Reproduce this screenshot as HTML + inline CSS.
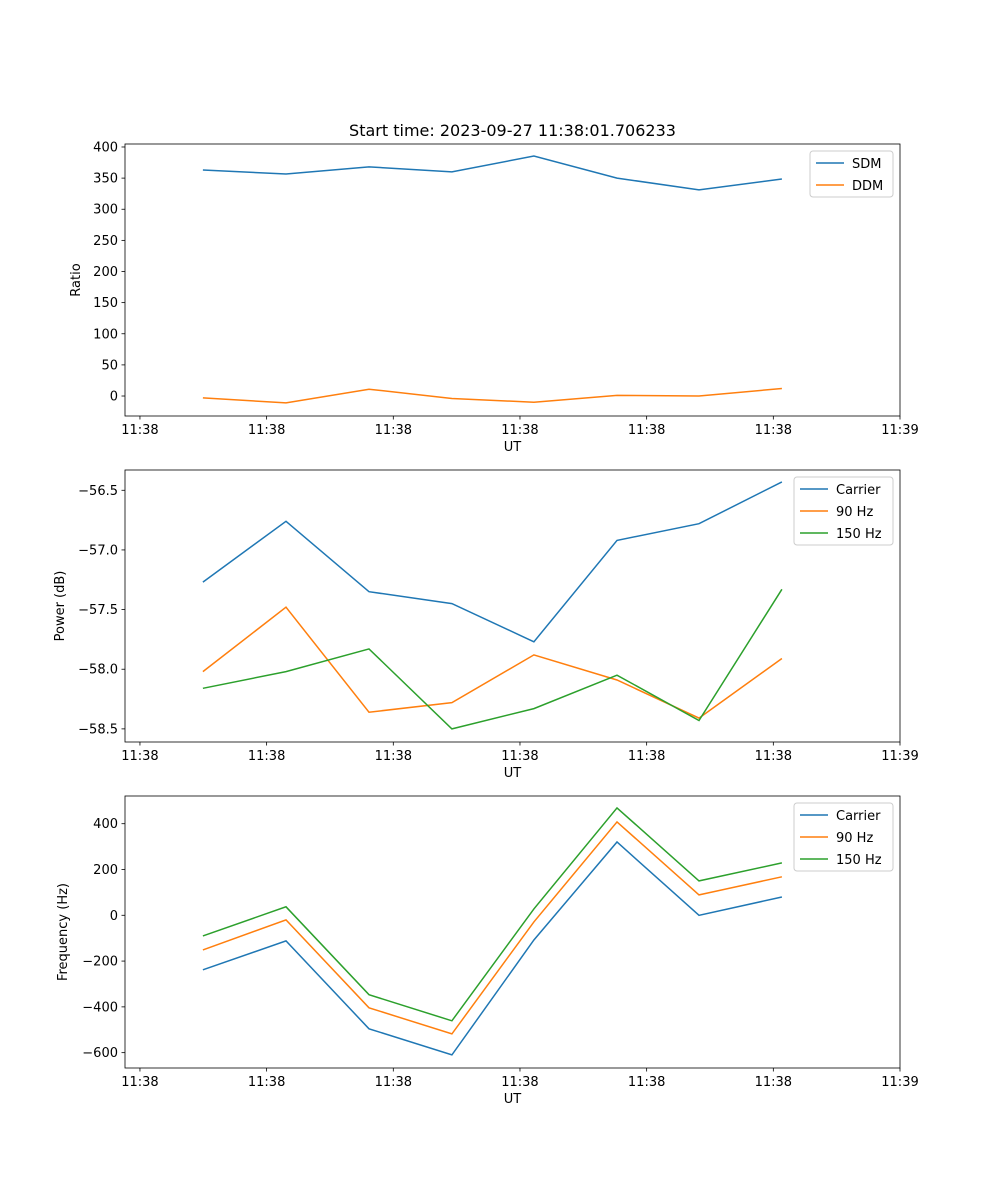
<!DOCTYPE html>
<html><head><meta charset="utf-8"><style>body{margin:0;background:#fff}svg{display:block}text{font-family:"DejaVu Sans","Liberation Sans",sans-serif;fill:#000}</style></head>
<body>
<svg id="chart" width="1000" height="1200" xmlns="http://www.w3.org/2000/svg"></svg>
<script>
const times = [4.97, 11.53, 18.08, 24.63, 31.1, 37.66, 44.13, 50.68];
const xTicks = [0, 10, 20, 30, 40, 50, 60];
const xTickLabels = ["11:38","11:38","11:38","11:38","11:38","11:38","11:39"];
const sdm = [363, 356.6, 368, 360, 385.5, 350, 331, 348.6];
const ddm = [-3, -11, 11, -4, -10, 1, 0, 12];
const ratioTicks = [0, 50, 100, 150, 200, 250, 300, 350, 400];
const pwrCarrier = [-57.27, -56.76, -57.35, -57.45, -57.77, -56.92, -56.78, -56.43];
const pwr90 = [-58.02, -57.48, -58.36, -58.28, -57.88, -58.09, -58.41, -57.91];
const pwr150 = [-58.16, -58.02, -57.83, -58.5, -58.33, -58.05, -58.43, -57.33];
const pwrTicks = [-56.5, -57.0, -57.5, -58.0, -58.5];
const frqCarrier = [-238, -112, -496, -610, -108, 320, 0, 80];
const frq90 = [-151, -20, -404, -518, -29, 408, 89, 168];
const frq150 = [-90, 37, -347, -461, 28, 469, 150, 229];
const frqTicks = [-600, -400, -200, 0, 200, 400];

const NS = "http://www.w3.org/2000/svg";
const svg = document.getElementById('chart');
function mk(tag, attrs, parent, txt){const e=document.createElementNS(NS,tag);for(const k in attrs)e.setAttribute(k,attrs[k]);if(txt!==undefined)e.textContent=txt;(parent||svg).appendChild(e);return e;}
const L=125,R=900,xmin=-1.18,xmax=60;
const xs=v=>L+(v-xmin)/(xmax-xmin)*(R-L);
const C=["#1f77b4","#ff7f0e","#2ca02c"];

function panel(name, top, bot, ymin, ymax, yTicks, fmt, series, labels, ylabel, legX, legW, ylabX){
  const g=mk('g',{});
  
  
  const ys=v=>bot-(v-ymin)/(ymax-ymin)*(bot-top);
  series.forEach((s,si)=>{
    const p=mk('polyline',{points:s.map((v,i)=>xs(times[i]).toFixed(1)+','+ys(v).toFixed(1)).join(' '),fill:'none',stroke:C[si],'stroke-width':1.5},g);
    
    
  });
  const fr=mk('rect',{x:L,y:top,width:R-L,height:bot-top,fill:'none',stroke:'#000','stroke-width':0.8},g);
  
  
  xTicks.forEach((t,i)=>{const x=xs(t);mk('line',{x1:x,x2:x,y1:bot,y2:bot+3.5,stroke:'#000','stroke-width':0.8},g);
    const tl=mk('text',{x:x,y:bot+18,'text-anchor':'middle','font-size':13},g,xTickLabels[i]);
    
    });
  yTicks.forEach(t=>{const y=ys(t);mk('line',{x1:L-3.5,x2:L,y1:y,y2:y,stroke:'#000','stroke-width':0.8},g);
    const tl=mk('text',{x:L-7,y:y+4.5,'text-anchor':'end','font-size':13},g,fmt(t));
    
    });
  const xl=mk('text',{x:(L+R)/2,y:bot+35,'text-anchor':'middle','font-size':13},g,'UT');
  
  
  const yl=mk('text',{x:ylabX,y:(top+bot)/2,'text-anchor':'middle','font-size':13,transform:`rotate(-90 ${ylabX} ${(top+bot)/2})`},g,ylabel);
  
  
  const lg=mk('g',{},g);
  
  
  mk('rect',{x:legX,y:top+7,width:legW,height:labels.length*22+2,rx:3,fill:'#fff',stroke:'#ccc','stroke-width':1},lg);
  labels.forEach((lab,i)=>{const y=top+19+i*22;
    mk('line',{x1:legX+6,x2:legX+34,y1:y,y2:y,stroke:C[i],'stroke-width':1.5},lg);
    const t=mk('text',{x:legX+42,y:y+5,'font-size':13},lg,lab);
    
    });
}
const tt=mk('text',{x:512.5,y:136,'text-anchor':'middle','font-size':16},svg,'Start time: 2023-09-27 11:38:01.706233');


panel('ratio',144,416,-32.1,404.8,ratioTicks,v=>String(v),[sdm,ddm],['SDM','DDM'],'Ratio',810,83,80);
panel('power',470,742,-58.61,-56.33,pwrTicks,v=>'\u2212'+Math.abs(v).toFixed(1),[pwrCarrier,pwr90,pwr150],['Carrier','90 Hz','150 Hz'],'Power (dB)',794,99,64);
panel('frequency',796,1068,-667,521,frqTicks,v=>v<0?'\u2212'+Math.abs(v):String(v),[frqCarrier,frq90,frq150],['Carrier','90 Hz','150 Hz'],'Frequency (Hz)',794,99,67);
</script>
</body></html>
